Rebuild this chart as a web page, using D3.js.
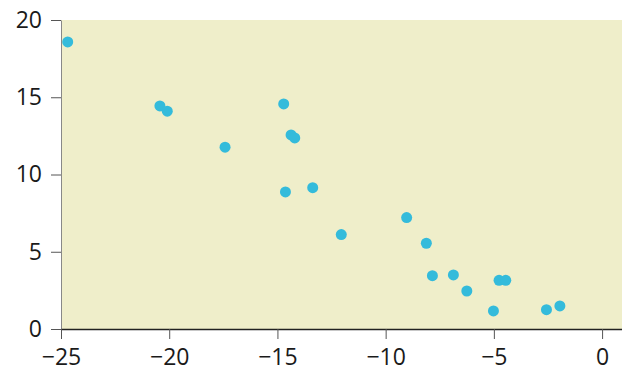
<!DOCTYPE html>
<html><head><meta charset="utf-8">
<script src="https://cdn.jsdelivr.net/npm/d3@7"></script>
<style>body{margin:0;background:#fff}svg{display:block}</style>
</head><body>
<svg id="c" width="622" height="375"></svg>
<script>
const xValues = [-24.69,-20.43,-20.09,-17.42,-14.71,-14.37,-14.20,-14.63,-13.37,-9.03,-12.05,-8.12,-7.84,-6.87,-6.25,-5.02,-4.76,-4.45,-2.57,-1.95];
const yValues = [18.58,14.44,14.10,11.77,14.57,12.56,12.37,8.87,9.15,7.21,6.11,5.55,3.45,3.50,2.46,1.17,3.15,3.15,1.25,1.49];
const xTicks = [-25,-20,-15,-10,-5,0];
const yTicks = [0,5,10,15,20];

const svg = d3.select("#c");
const m = {left:61, right:0, top:20, bottom:46};
const W = 622, H = 375;
const x = d3.scaleLinear().domain([-25, 0.92]).range([m.left, W - m.right]);
const y = d3.scaleLinear().domain([0, 20]).range([329, m.top]);

svg.append("rect").attr("x", x(-25)).attr("y", y(20))
  .attr("width", x(0.92) - x(-25)).attr("height", y(0) - y(20))
  .attr("fill", "#efeeca");

const font = "'Open Sans', sans-serif";
const ya = svg.append("g").attr("transform", `translate(${m.left},0)`)
  .call(d3.axisLeft(y).tickValues(yTicks).tickSize(10).tickPadding(9).tickSizeOuter(0));
ya.select(".domain").attr("stroke", "#888");
ya.selectAll(".tick line").attr("stroke", "#555");
ya.selectAll("text").attr("font-family", font).attr("font-size", 23).attr("fill", "#1a1a1a");

const xa = svg.append("g").attr("transform", `translate(0,329)`)
  .call(d3.axisBottom(x).tickValues(xTicks).tickSize(10).tickPadding(10).tickSizeOuter(0));
xa.select(".domain").attr("stroke", "#222").attr("stroke-width", 1.5);
xa.selectAll(".tick line").attr("stroke", "#555");
xa.selectAll("text").attr("font-family", font).attr("font-size", 23).attr("fill", "#1a1a1a");

svg.append("g").selectAll("circle").data(xValues.map((v,i)=>[v,yValues[i]]))
  .join("circle").attr("cx", d=>x(d[0])).attr("cy", d=>y(d[1])).attr("r", 5.5)
  .attr("fill", "#34bbdb");
</script>
</body></html>
